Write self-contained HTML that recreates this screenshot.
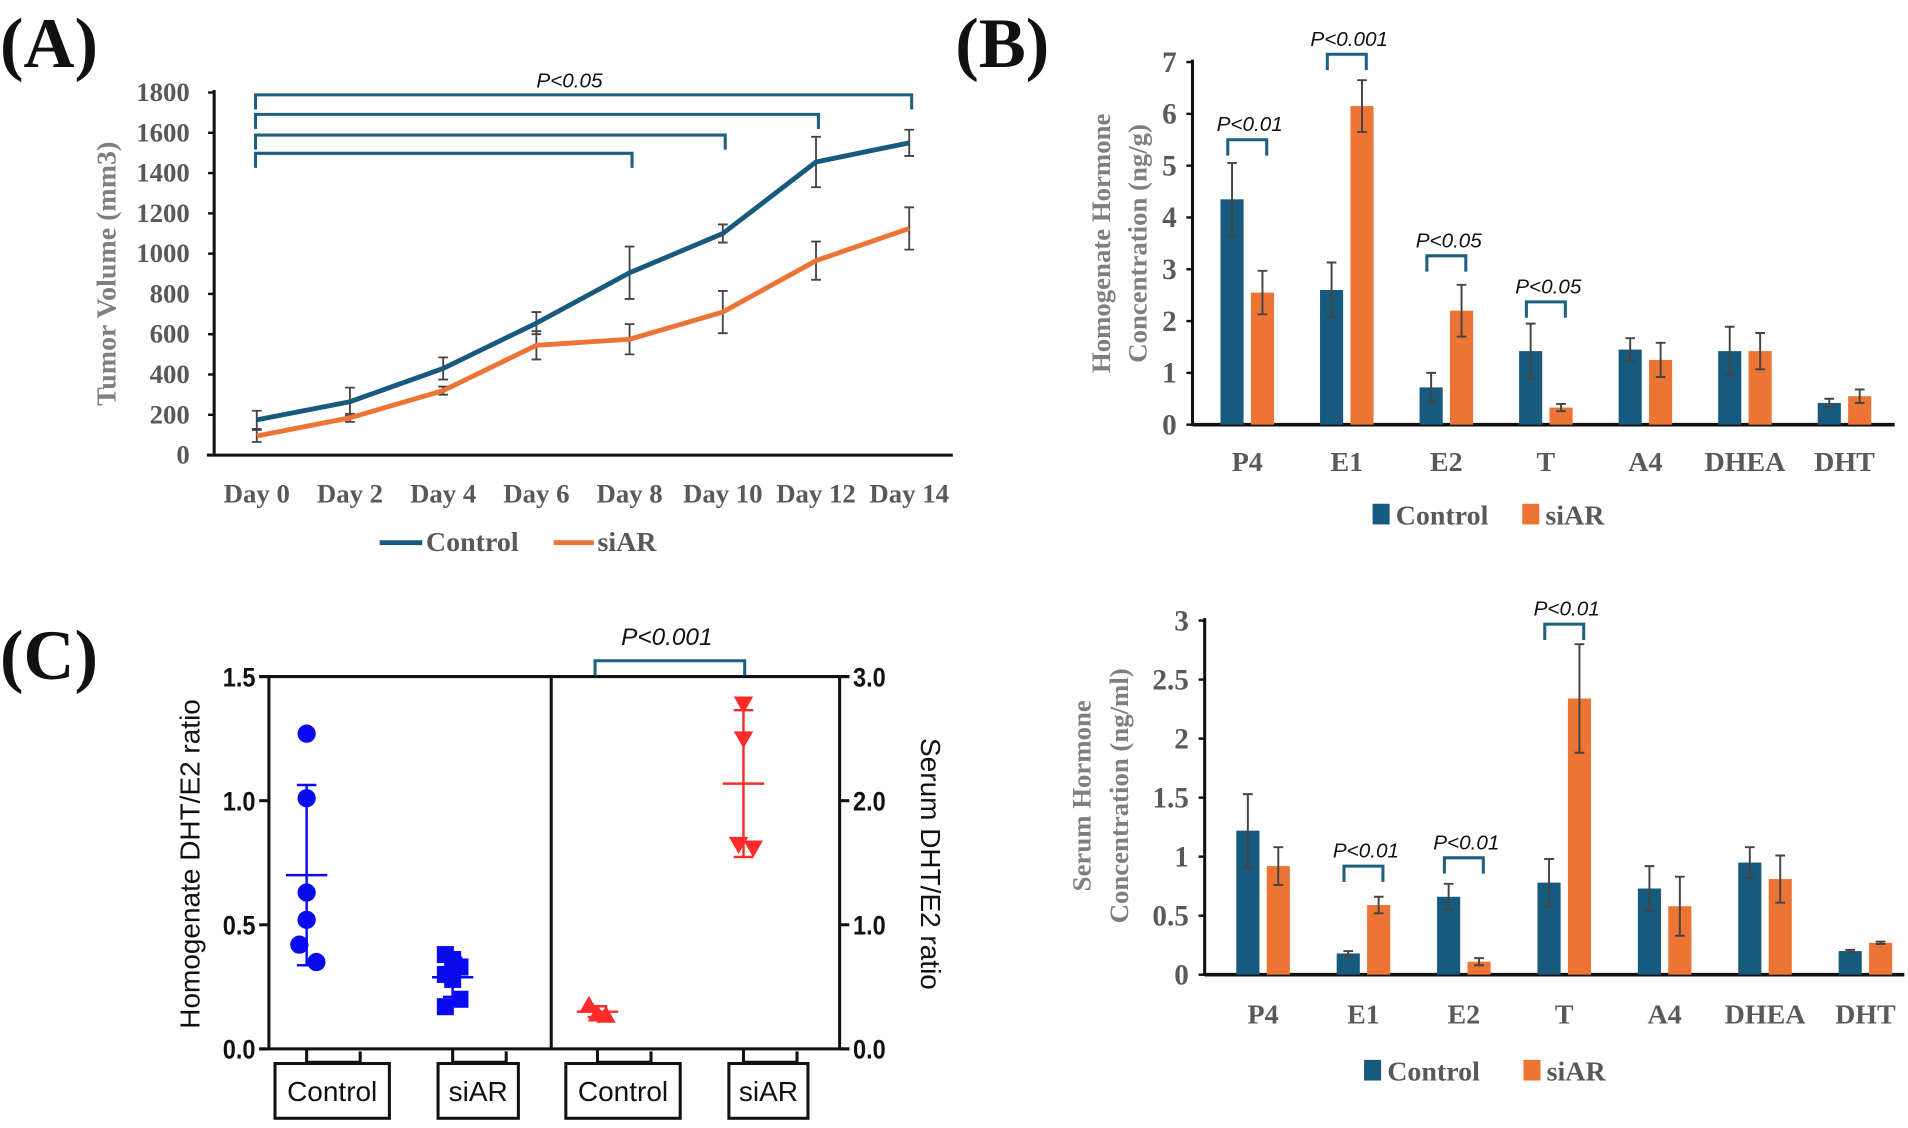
<!DOCTYPE html>
<html><head><meta charset="utf-8"><style>
html,body{margin:0;padding:0;background:#fff;}
svg{display:block;}
.ser{font-family:"Liberation Serif",serif;font-weight:bold;}
.sans{font-family:"Liberation Sans",sans-serif;}
</style></head><body>
<svg id="fig" width="1908" height="1128" viewBox="0 0 1568 927" preserveAspectRatio="none" xmlns="http://www.w3.org/2000/svg">
<rect width="1568" height="927" fill="#fff"/>
<text class="ser" x="0" y="55" font-size="58" fill="#111">(A)</text>
<text class="ser" x="785" y="55" font-size="58" fill="#111">(B)</text>
<text class="ser" x="0" y="558" font-size="58" fill="#111">(C)</text>
<g id="gA"></g>
<g id="gB"></g>
<g id="gD"></g>
<g id="gC"></g>
</svg>
<script>
// ---- Panel A data ----
const daysA = ["Day 0","Day 2","Day 4","Day 6","Day 8","Day 10","Day 12","Day 14"];
const ctrlA = [175,265,430,655,905,1100,1455,1550];
const ctrlErrA = [45,70,55,55,130,45,125,65];
const siarA = [95,185,320,545,575,710,965,1125];
const siarErrA = [30,20,20,70,75,105,95,105];
const ticksA = [0,200,400,600,800,1000,1200,1400,1600,1800];
const bracketEndsA = [7,6,5,4];
// ---- Panel B data ----
const hormones = ["P4","E1","E2","T","A4","DHEA","DHT"];
const ctrlB = [4.35,2.6,0.72,1.42,1.45,1.42,0.42];
const ctrlErrB = [0.7,0.53,0.28,0.53,0.22,0.47,0.08];
const siarB = [2.55,6.15,2.2,0.33,1.25,1.42,0.55];
const siarErrB = [0.42,0.5,0.5,0.07,0.33,0.35,0.13];
const ticksB = [0,1,2,3,4,5,6,7];
const sigB = [[0,"P<0.01",5.5],[1,"P<0.001",7.15],[2,"P<0.05",3.26],[3,"P<0.05",2.37]];
// ---- Panel D (serum) data ----
const ctrlD = [1.22,0.18,0.66,0.78,0.73,0.95,0.2];
const ctrlErrD = [0.31,0.02,0.11,0.2,0.19,0.13,0.01];
const siarD = [0.92,0.59,0.11,2.34,0.58,0.81,0.27];
const siarErrD = [0.16,0.07,0.03,0.46,0.25,0.2,0.01];
const ticksD = [0,0.5,1,1.5,2,2.5,3];
const ticksDLabels = ["0","0.5","1","1.5","2","2.5","3"];
const sigD = [[1,"P<0.01",0.92],[2,"P<0.01",0.99],[3,"P<0.01",2.97]];
// ---- Panel C data ----
const homCtrl = [1.27,1.01,0.63,0.52,0.42,0.35];
const homSiar = [0.38,0.36,0.33,0.3,0.28,0.2,0.17];
const serCtrl = [0.35,0.28,0.27];
const serSiar = [2.78,2.5,1.65,1.62];
const ticksCL = ["0.0","0.5","1.0","1.5"];
const ticksCR = ["0.0","1.0","2.0","3.0"];

const NS="http://www.w3.org/2000/svg";
function mk(tag,attrs,parent){const e=document.createElementNS(NS,tag);for(const k in attrs)e.setAttribute(k,attrs[k]);parent.appendChild(e);return e;}
const BLUE="#175a7d", ORANGE="#ec7434", BR="#1f5f7f", GRAY="#595959";
const mean=a=>a.reduce((s,v)=>s+v,0)/a.length;
const sd=a=>{const m=mean(a);return Math.sqrt(a.reduce((s,v)=>s+(v-m)*(v-m),0)/(a.length-1));};

// ================= Panel A =================
(function(){
const g=document.getElementById('gA');
const x=i=>211+i*76.6, y=v=>374-v/1800*298;
let el=mk('line',{x1:176,y1:74,x2:176,y2:375,stroke:'#111','stroke-width':2.5},g);


el=mk('line',{x1:170,y1:374,x2:783,y2:374,stroke:'#111','stroke-width':2.5},g);


ticksA.forEach(t=>{
 const tl=mk('line',{x1:171,y1:y(t),x2:176,y2:y(t),stroke:'#111','stroke-width':2},g);
 
 
 const tx=mk('text',{x:156,y:y(t)+7,'text-anchor':'end','font-size':22,fill:GRAY,class:'ser'},g);
 
 
 tx.textContent=t;
});
daysA.forEach((d,i)=>{
 const tx=mk('text',{x:x(i),y:413,'text-anchor':'middle','font-size':22,fill:GRAY,class:'ser'},g);
 
 
 tx.textContent=d;
});
const tt=mk('text',{x:0,y:0,'text-anchor':'middle','font-size':23,fill:'#7f7f7f',class:'ser',transform:'translate(95,225) rotate(-90)'},g);


tt.textContent='Tumor Volume (mm3)';
[[ctrlA,ctrlErrA,BLUE,'control'],[siarA,siarErrA,ORANGE,'siar']].forEach(([vals,errs,col,nm])=>{
 vals.forEach((v,i)=>{
  const eb=mk('path',{d:`M${x(i)},${y(v-errs[i])}V${y(v+errs[i])}M${x(i)-4},${y(v-errs[i])}h8M${x(i)-4},${y(v+errs[i])}h8`,stroke:'#444','stroke-width':1.5,fill:'none'},g);
  
  
 });
 const ln=mk('polyline',{points:vals.map((v,i)=>x(i)+','+y(v)).join(' '),fill:'none',stroke:col,'stroke-width':4,'stroke-linejoin':'round'},g);
 
 
});
const bys=[78,94,111,126];
bracketEndsA.forEach((e,k)=>{
 const b=mk('path',{d:`M210,${bys[k]+12}V${bys[k]}H${x(e)+2}V${bys[k]+12}`,stroke:BR,'stroke-width':2.5,fill:'none'},g);
 
 
});
const pt=mk('text',{x:468,y:72,'text-anchor':'middle','font-size':17,'font-style':'italic',fill:'#111',class:'sans'},g);


pt.textContent='P<0.05';
const l1=mk('line',{x1:312,y1:446,x2:347,y2:446,stroke:BLUE,'stroke-width':4},g);


const t1=mk('text',{x:350,y:453,'font-size':23,fill:GRAY,class:'ser'},g);


t1.textContent='Control';
const l2=mk('line',{x1:455,y1:446,x2:488,y2:446,stroke:ORANGE,'stroke-width':4},g);


const t2=mk('text',{x:491,y:453,'font-size':23,fill:GRAY,class:'ser'},g);


t2.textContent='siAR';
})();

// ================= Bar charts =================
function bars(g,c){
 const y=v=>c.y0-(v/c.max)*(c.y0-c.yTop), x=i=>c.cx0+i*c.sp;
 let el=mk('line',{x1:c.ax,y1:c.yTop-2,x2:c.ax,y2:c.y0+1,stroke:'#111','stroke-width':2.5},g);
 
 
 el=mk('line',{x1:c.ax,y1:c.y0,x2:c.xEnd,y2:c.y0,stroke:'#111','stroke-width':3},g);
 
 
 c.ticks.forEach((t,k)=>{
  const tl=mk('line',{x1:c.ax-5,y1:y(t),x2:c.ax,y2:y(t),stroke:'#111','stroke-width':2},g);
  
  
  const tx=mk('text',{x:c.ax-13,y:y(t)+8,'text-anchor':'end','font-size':24,fill:GRAY,class:'ser'},g);
  
  
  tx.textContent=c.labels[k];
 });
 hormones.forEach((h,i)=>{
  const tx=mk('text',{x:x(i),y:c.xly,'text-anchor':'middle','font-size':23,fill:GRAY,class:'ser'},g);
  
  
  tx.textContent=h;
 });
 [[c.ctrl,c.ctrlErr,BLUE,-12.5,'control'],[c.si,c.siErr,ORANGE,12.5,'siar']].forEach(([vals,errs,col,off,nm])=>{
  vals.forEach((v,i)=>{
   const cx=x(i)+off;
   const r=mk('rect',{x:cx-9.5,y:y(v),width:19,height:c.y0-y(v),fill:col},g);
   
   
   const eb=mk('path',{d:`M${cx},${y(v-errs[i])}V${y(v+errs[i])}M${cx-4},${y(v-errs[i])}h8M${cx-4},${y(v+errs[i])}h8`,stroke:'#444','stroke-width':1.6,fill:'none'},g);
   
   
  });
 });
 c.sig.forEach(([i,lab,v])=>{
  const by=y(v);
  const b=mk('path',{d:`M${x(i)-16},${by+13}V${by}H${x(i)+16}V${by+13}`,stroke:BR,'stroke-width':2.5,fill:'none'},g);
  
  
  const t=mk('text',{x:x(i)+2,y:by-7,'text-anchor':'middle','font-size':17,'font-style':'italic',fill:'#111',class:'sans'},g);
  
  
  t.textContent=lab;
 });
 c.title.forEach((s,k)=>{
  const t=mk('text',{x:0,y:0,'text-anchor':'middle','font-size':22,fill:'#7f7f7f',class:'ser',transform:`translate(${c.tx[k]},${c.ty}) rotate(-90)`},g);
  
  
  t.textContent=s;
 });
 const s1=mk('rect',{x:c.lx[0],y:c.ly-9,width:14,height:17,fill:BLUE},g);
 
 
 const t1=mk('text',{x:c.lx[0]+19,y:c.ly+8,'font-size':23,fill:GRAY,class:'ser'},g);
 
 
 t1.textContent='Control';
 const s2=mk('rect',{x:c.lx[1],y:c.ly-9,width:14,height:17,fill:ORANGE},g);
 
 
 const t2=mk('text',{x:c.lx[1]+19,y:c.ly+8,'font-size':23,fill:GRAY,class:'ser'},g);
 
 
 t2.textContent='siAR';
}
bars(document.getElementById('gB'),{ax:980,xEnd:1557,y0:349,yTop:51,max:7,ticks:ticksB,labels:ticksB.map(String),cx0:1025,sp:81.8,xly:387,
 ctrl:ctrlB,ctrlErr:ctrlErrB,si:siarB,siErr:siarErrB,sig:sigB,title:["Homogenate Hormone","Concentration (ng/g)"],tx:[912,942],ty:200,lx:[1128,1251],ly:423});
bars(document.getElementById('gD'),{ax:990,xEnd:1565,y0:801,yTop:510,max:3,ticks:ticksD,labels:ticksDLabels,cx0:1038,sp:82.5,xly:841,
 ctrl:ctrlD,ctrlErr:ctrlErrD,si:siarD,siErr:siarErrD,sig:sigD,title:["Serum Hormone","Concentration (ng/ml)"],tx:[896,927],ty:654,lx:[1121,1252],ly:880});

// ================= Panel C =================
(function(){
const g=document.getElementById('gC');
const L=221,R=690,M=453,T=556,B=862;
const yL=v=>B-v/1.5*(B-T), yR=v=>B-v/3*(B-T);
let el=mk('path',{d:`M${L-8},${T}H${R+8}M${L},${T}V${B}M${R},${T}V${B}M${M},${T}V${B}M${L-8},${B}H${R+8}`,stroke:'#111','stroke-width':2.5,fill:'none'},g);


ticksCL.forEach((t,k)=>{
 const yy=B-k*(B-T)/3;
 const tl=mk('line',{x1:L-8,y1:yy,x2:L,y2:yy,stroke:'#111','stroke-width':2.5},g);
 
 
 const tx=mk('text',{x:L-11,y:yy+8,'text-anchor':'end','font-size':22,'font-weight':'bold',fill:'#111',class:'sans',transform:`translate(${(L-11)*0.12},0) scale(0.88,1)`},g);
 
 
 tx.textContent=t;
});
ticksCR.forEach((t,k)=>{
 const yy=B-k*(B-T)/3;
 const tl=mk('line',{x1:R,y1:yy,x2:R+8,y2:yy,stroke:'#111','stroke-width':2.5},g);
 
 
 const tx=mk('text',{x:R+11,y:yy+8,'font-size':22,'font-weight':'bold',fill:'#111',class:'sans',transform:`translate(${(R+11)*0.12},0) scale(0.88,1)`},g);
 
 
 tx.textContent=t;
});
const t1=mk('text',{x:0,y:0,'text-anchor':'middle','font-size':23,fill:'#111',class:'sans',transform:'translate(164,710) rotate(-90)'},g);


t1.textContent='Homogenate DHT/E2 ratio';
const t2=mk('text',{x:0,y:0,'text-anchor':'middle','font-size':23,fill:'#111',class:'sans',transform:'translate(757,710) rotate(90)'},g);


t2.textContent='Serum DHT/E2 ratio';
const groups=[[252,'Control',226,94],[372,'siAR',360,66],[491,'Control',465,94],[611,'siAR',599,65]];
groups.forEach(([a,lab,bx,bw])=>{
 const tk=mk('path',{d:`M${a},${B}V${B+11}H${a+44}V${B+2}`,stroke:'#111','stroke-width':2.5,fill:'none'},g);
 
 
 const bxr=mk('rect',{x:bx,y:B+12,width:bw,height:45,fill:'#fff',stroke:'#111','stroke-width':2.5},g);
 
 
 const tx=mk('text',{x:bx+bw/2,y:B+43,'text-anchor':'middle','font-size':23,fill:'#111',class:'sans'},g);
 
 
 tx.textContent=lab;
});
function summary(cx,vals,yf,col,nm){
 const m=mean(vals),s=sd(vals);
 const p=mk('path',{d:`M${cx},${yf(m-s)}V${yf(m+s)}M${cx-8},${yf(m-s)}h16M${cx-8},${yf(m+s)}h16M${cx-17},${yf(m)}h34`,stroke:col,'stroke-width':2,fill:'none'},g);
 
 
}
const CB="#0a0aee", CR="#ff2b2b";
summary(252,homCtrl,yL,CB,'hom-control');
homCtrl.forEach((v,i)=>{
 const c=mk('circle',{cx:252+(i===4?-6:(i===5?8:0)),cy:yL(v),r:7.5,fill:CB},g);
 
 
});
summary(372,homSiar,yL,CB,'hom-siar');
homSiar.forEach((v,i)=>{
 const sx=372+((i%3)-1)*6;
 const r=mk('rect',{x:sx-7,y:yL(v)-7,width:14,height:14,fill:CB},g);
 
 
});
summary(491,serCtrl,yR,CR,'serum-control');
serCtrl.forEach((v,i)=>{
 const sx=491+((i%3)-1)*7, sy=yR(v);
 const t=mk('path',{d:`M${sx},${sy-8}L${sx+8},${sy+6}L${sx-8},${sy+6}Z`,fill:CR},g);
 
 
});
summary(611,serSiar,yR,CR,'serum-siar');
serSiar.forEach((v,i)=>{
 const sx=611+(i===3?8:(i===2?-4:0)), sy=yR(v);
 const t=mk('path',{d:`M${sx-8},${sy-6}L${sx+8},${sy-6}L${sx},${sy+8}Z`,fill:CR},g);
 
 
});
const br=mk('path',{d:`M489,555V543H612V555`,stroke:BR,'stroke-width':2.5,fill:'none'},g);


const pt=mk('text',{x:548,y:530,'text-anchor':'middle','font-size':20,'font-style':'italic',fill:'#111',class:'sans'},g);


pt.textContent='P<0.001';
})();
</script>
</body></html>
